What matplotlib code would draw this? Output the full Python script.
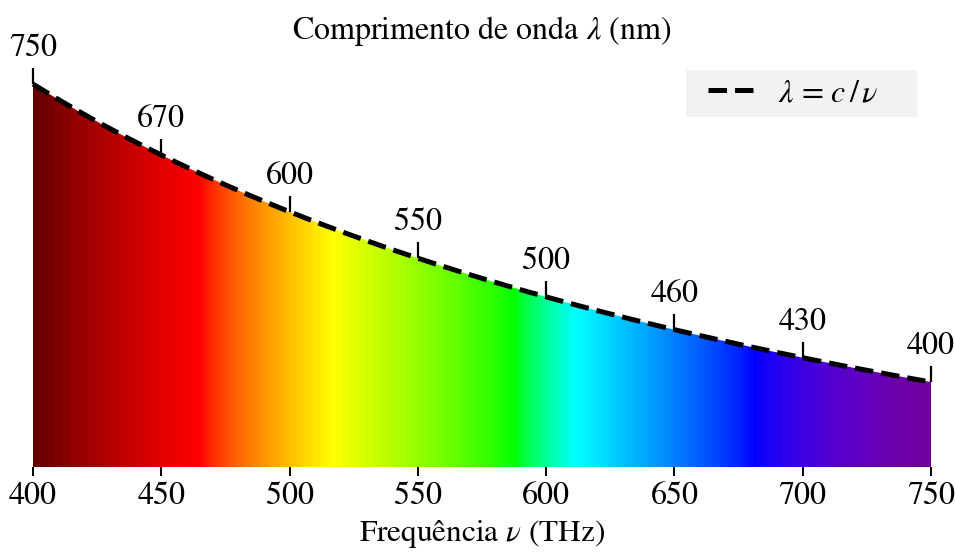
import numpy as np
import matplotlib
matplotlib.use("Agg")
import matplotlib.pyplot as plt
from matplotlib.patches import Polygon, Rectangle

plt.rcParams["font.family"] = "STIXGeneral"
plt.rcParams["mathtext.fontset"] = "stix"

# speed of light in nm * THz
C_NM_THZ = 299792.458

freq_min, freq_max = 400, 750
freq_ticks = [400, 450, 500, 550, 600, 650, 700, 750]
wl_labels = ["750", "670", "600", "550", "500", "460", "430", "400"]


def spectral_rgb(wl):
    """Approximate RGB colour of visible light of wavelength wl (nm)."""
    if wl < 440:
        r, g, b = (440 - wl) / 60, 0.0, 1.0
    elif wl < 490:
        r, g, b = 0.0, (wl - 440) / 50, 1.0
    elif wl < 510:
        r, g, b = 0.0, 1.0, (510 - wl) / 20
    elif wl < 580:
        r, g, b = (wl - 510) / 70, 1.0, 0.0
    elif wl < 645:
        r, g, b = 1.0, (645 - wl) / 65, 0.0
    else:
        r, g, b = 1.0, 0.0, 0.0
    if wl < 440:
        f = 0.3 + 0.7 * (wl - 380) / 60
    elif wl > 645:
        f = 0.3 + 0.7 * (750 - wl) / 105
    else:
        f = 1.0
    return [max(0.0, min(1.0, (v * f))) ** 0.8 for v in (r, g, b)]


nu = np.linspace(freq_min, freq_max, 800)
lam = C_NM_THZ / nu

fig = plt.figure(figsize=(9.55, 5.53), dpi=100)
ax = fig.add_axes([33 / 955, 1 - 467 / 553, 898 / 955, 426 / 553])
ax.set_xlim(freq_min, freq_max)
ax.set_ylim(300, 800)

# colour strip clipped to the area under the curve
strip = np.array([[spectral_rgb(w) for w in lam]])
img = ax.imshow(strip, extent=[freq_min, freq_max, 300, 800], aspect="auto",
                origin="lower", interpolation="bilinear", zorder=1)
verts = np.column_stack([np.r_[nu, nu[::-1]], np.r_[lam, np.full_like(lam, 300)]])
clip = Polygon(verts, closed=True, transform=ax.transData, facecolor="none",
               edgecolor="none")
ax.add_patch(clip)
img.set_clip_path(clip)

ax.plot(nu, lam, color="black", ls="--", lw=3.6, zorder=3, clip_on=False,
        label=r"$\lambda$ = $c\,/\,\nu$")

# wavelength markers along the curve
for f, lab in zip(freq_ticks, wl_labels):
    y = C_NM_THZ / f
    ax.plot([f], [y], marker=2, ms=11.5, mew=1.6, color="black", zorder=4,
            clip_on=False)
    ax.annotate(lab, xy=(f, y), xytext=(0, 20), textcoords="offset points",
                ha="center", va="baseline", fontsize=23)

for s in ax.spines.values():
    s.set_visible(False)
ax.set_yticks([])
ax.set_xticks(freq_ticks)
ax.tick_params(axis="x", length=6.5, width=1.4, labelsize=23, pad=4)
ax.set_xlabel(r"Frequência $\nu$ (THz)", fontsize=22.5, labelpad=5)
ax.set_title(r"Comprimento de onda $\lambda$ (nm)", fontsize=23, y=1.005, pad=0)

# legend on a light grey panel
ax.add_patch(Rectangle((0.727, 0.8216), 0.257, 0.1104, transform=ax.transAxes,
                       facecolor="#f2f2f2", edgecolor="none", zorder=5))
leg = ax.legend(loc="center left", bbox_to_anchor=(0.7517, 0.877),
                borderaxespad=0, borderpad=0, fontsize=23, handlelength=1.55,
                handletextpad=0.65, frameon=False)
leg.set_zorder(6)

fig.savefig("out.png", dpi=100)
